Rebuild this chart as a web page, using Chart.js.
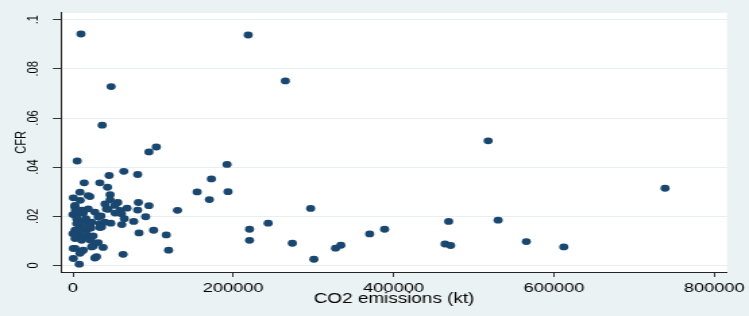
<!DOCTYPE html>
<html>
<head>
<meta charset="utf-8">
<script src="https://cdn.jsdelivr.net/npm/chart.js@4.4.1/dist/chart.umd.min.js"></script>
<style>
    html, body { margin: 0; padding: 0; background: #eaf2f3; }
</style>
</head>
<body>
<!-- canvas drawn narrow and stretched sideways, like the original export -->
<canvas id="chart" width="555" height="316" style="display:block;width:749px;height:316px"></canvas>
<script>
// CO2 emissions (kt) per country
const co2Kt = [
    9900, 218600, 47600, 265000, 36400, 518000, 738700, 296500, 220300, 243500,
    220300, 273700, 300600, 327600, 334200, 370200, 388800, 468700, 464200, 471200,
    530400, 565600, 612400, 104000, 94800, 192200, 63400, 80700, 172700, 45100,
    154900, 193400, 170200, 81600, 94800, 130400, 80700, 67500, 55900, 90700,
    75800, 60900, 82400, 100600, 116400, 119300, 62500, 5300, 14000, 33500,
    43100, 8700, 400, 21100, 2100, 46300, 46300, 58700, 43800, 52500,
    34800, 12800, 0, 47200, 33500, 33500, 27300, 7800, 400, 10800,
    400, 22000, 25200, 37600, 31400, 12800, 4600, 22400, 14900, 4600,
    4600, 17000, 6600, 4600, 8700, 2500, 14900, 6600, 17000, 2500,
    10800, 21100, 2500, 12800, 23200, 8700, 19000, 27300, 31400, 39700,
    35600, 23200, 21100, 41800, 60500, 52200, 0, 29400, 19000, 2500,
    9000, 16000, 12000, 8000, 11000, 3000, 25000, 64000, 40000
];

// case fatality rate, same order as co2Kt
const cfr = [
    0.0942, 0.0938, 0.0728, 0.0751, 0.0571, 0.0507, 0.0314, 0.0232, 0.0147, 0.0172,
    0.0102, 0.0090, 0.0025, 0.0070, 0.0082, 0.0128, 0.0147, 0.0179, 0.0087, 0.0081,
    0.0184, 0.0097, 0.0075, 0.0482, 0.0462, 0.0411, 0.0383, 0.0370, 0.0352, 0.0366,
    0.0299, 0.0300, 0.0268, 0.0256, 0.0243, 0.0224, 0.0225, 0.0233, 0.0256, 0.0198,
    0.0179, 0.0166, 0.0132, 0.0143, 0.0124, 0.0062, 0.0045, 0.0425, 0.0336, 0.0336,
    0.0318, 0.0298, 0.0275, 0.0280, 0.0240, 0.0288, 0.0267, 0.0224, 0.0228, 0.0213,
    0.0201, 0.0213, 0.0207, 0.0172, 0.0170, 0.0154, 0.0030, 0.0005, 0.0069, 0.0058,
    0.0028, 0.0102, 0.0078, 0.0073, 0.0093, 0.0116, 0.0113, 0.0152, 0.0183, 0.0170,
    0.0143, 0.0143, 0.0210, 0.0190, 0.0163, 0.0143, 0.0150, 0.0123, 0.0123, 0.0109,
    0.0102, 0.0105, 0.0069, 0.0062, 0.0075, 0.0049, 0.0230, 0.0217, 0.0197, 0.0176,
    0.0156, 0.0176, 0.0163, 0.0230, 0.0210, 0.0244, 0.0129, 0.0035, 0.0284, 0.0244,
    0.0265, 0.0190, 0.0175, 0.0140, 0.0225, 0.0225, 0.0120, 0.0190, 0.0250
];

const xTicks = [0, 200000, 400000, 600000, 800000];
const yTicks = [0, 0.02, 0.04, 0.06, 0.08, 0.1];
const yTickLabels = ['0', '.02', '.04', '.06', '.08', '.1'];

const points = co2Kt.map((x, i) => ({ x: x, y: cfr[i] }));

// Stata-like backdrop: bluish graph region, white plot region
const backgroundPlugin = {
    id: 'stataBackground',
    beforeDraw(chart) {
        const { ctx, chartArea } = chart;
        ctx.save();
        ctx.fillStyle = '#eaf2f3';
        ctx.fillRect(0, 0, chart.width, chart.height);
        ctx.fillStyle = '#ffffff';
        ctx.fillRect(chartArea.left, chartArea.top,
            chartArea.right - chartArea.left, chartArea.bottom - chartArea.top);
        ctx.restore();
    }
};

const fontFamily = '"Liberation Sans", Arial, Helvetica, sans-serif';

new Chart(document.getElementById('chart'), {
    type: 'scatter',
    data: {
        datasets: [{
            label: 'CFR',
            data: points,
            backgroundColor: '#1a476f',
            borderWidth: 0,
            pointRadius: 3.4,
            pointHoverRadius: 3.4
        }]
    },
    options: {
        responsive: false,
        devicePixelRatio: 1,
        animation: false,
        layout: { padding: { left: 0, right: 14.3, top: 11, bottom: 0 } },
        plugins: {
            legend: { display: false },
            tooltip: { enabled: false }
        },
        scales: {
            x: {
                type: 'linear',
                min: -14930,
                max: 816100,
                afterBuildTicks: (scale) => { scale.ticks = xTicks.map(v => ({ value: v })); },
                afterFit: (scale) => { scale.height = 44; },
                grid: {
                    drawOnChartArea: false,
                    drawTicks: true,
                    tickLength: 5,
                    tickColor: '#333333'
                },
                border: { display: true, color: '#222222', width: 1 },
                ticks: {
                    padding: 3,
                    maxRotation: 0,
                    color: '#000000',
                    font: { family: fontFamily, size: 13.5 },
                    callback: (value) => String(value)
                },
                title: {
                    display: true,
                    text: 'CO2 emissions (kt)',
                    color: '#000000',
                    font: { family: fontFamily, size: 14 },
                    padding: { top: 0, bottom: 8.6 }
                }
            },
            y: {
                type: 'linear',
                min: -0.0027,
                max: 0.1028,
                afterBuildTicks: (scale) => { scale.ticks = yTicks.map(v => ({ value: v })); },
                afterFit: (scale) => { scale.width = 45.2; },
                grid: {
                    color: '#e6eff1',
                    lineWidth: 1,
                    drawTicks: true,
                    tickLength: 6,
                    tickColor: '#333333'
                },
                border: { display: true, color: '#222222', width: 1 },
                ticks: {
                    minRotation: 90,
                    maxRotation: 90,
                    crossAlign: 'center',
                    padding: 6.3,
                    color: '#000000',
                    font: { family: fontFamily, size: 11 },
                    callback: (value, index) => yTickLabels[index]
                },
                title: {
                    display: true,
                    text: 'CFR',
                    color: '#000000',
                    font: { family: fontFamily, size: 11 },
                    padding: { top: 9.7, bottom: 0 }
                }
            }
        }
    },
    plugins: [backgroundPlugin]
});
</script>
</body>
</html>
